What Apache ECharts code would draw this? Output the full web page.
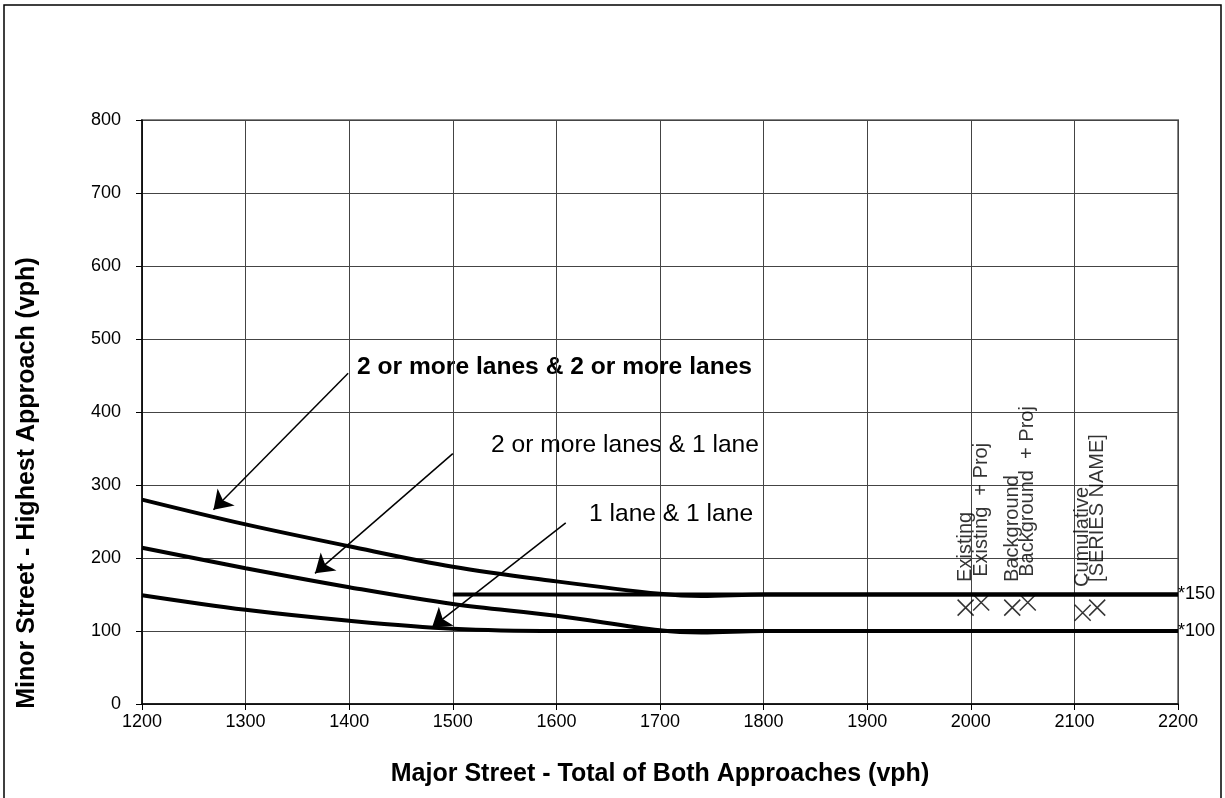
<!DOCTYPE html>
<html>
<head>
<meta charset="utf-8">
<title>Warrant chart</title>
<script src="https://cdn.jsdelivr.net/npm/echarts@6/dist/echarts.min.js"></script>
<style>
  html, body { margin: 0; padding: 0; background: #fff; }
  #chart { width: 1225px; height: 798px; }
</style>
</head>
<body>
<div id="chart"></div>
<script>
// curves, [major vph, minor vph]
const twoPlusTwoPlus = [[1200, 280], [1300, 246], [1400, 216], [1500, 188], [1600, 168], [1700, 151], [1740, 148], [1800, 150], [2200, 150]];
const twoPlusOne = [[1200, 214], [1300, 186], [1400, 160], [1500, 137], [1600, 121], [1700, 101], [1740, 98], [1800, 100], [2200, 100]];
const oneOne = [[1200, 149], [1300, 129], [1400, 114], [1500, 103], [1600, 100], [1700, 100], [2200, 100]];
const line150 = [[1500, 150], [2200, 150]];

// scenario points
const pointNames = ['Existing', 'Existing  + Proj', 'Background', 'Background  + Proj', 'Cumulative', '[SERIES NAME]'];
const pointX = [1995, 2010, 2040, 2055, 2108, 2122];
const pointY = [132, 139, 132, 139, 125, 132];

// leader arrows (from label to curve)
const arrowFrom = [[1399, 453], [1500, 343], [1609, 248]];
const arrowTo = [[1269, 266], [1367, 179], [1480, 105]];

const FONT = '"Liberation Sans", Arial, sans-serif';

let myChart = echarts.init(document.getElementById('chart'));

function curve(name, data, extra) {
  return Object.assign({
    name: name,
    type: 'line',
    data: data,
    smooth: 0.35,
    symbol: 'none',
    silent: true,
    lineStyle: { color: '#000', width: 4 }
  }, extra || {});
}

myChart.setOption({
  animation: false,
  textStyle: { fontFamily: FONT },
  grid: {
    left: 142, right: 47, top: 120, bottom: 94,
    show: true,
    borderColor: '#888',
    borderWidth: 2
  },
  xAxis: {
    type: 'value',
    min: 1200,
    max: 2200,
    interval: 100,
    name: 'Major Street - Total of Both Approaches (vph)',
    nameLocation: 'middle',
    nameGap: 58,
    nameTextStyle: { color: '#000', fontSize: 25, fontWeight: 'bold', fontFamily: FONT },
    axisLine: { lineStyle: { color: '#000', width: 1.5 } },
    axisTick: { length: 6, lineStyle: { color: '#000' } },
    axisLabel: { color: '#000', fontSize: 18, margin: 9, fontFamily: FONT, formatter: v => String(v) },
    splitLine: { lineStyle: { color: '#444', width: 1 } }
  },
  yAxis: {
    type: 'value',
    min: 0,
    max: 800,
    interval: 100,
    axisLine: { show: true, lineStyle: { color: '#000', width: 1.5 } },
    axisTick: { show: true, length: 6, lineStyle: { color: '#000' } },
    axisLabel: { color: '#000', fontSize: 18, margin: 21, fontFamily: FONT, formatter: v => String(v) },
    splitLine: { lineStyle: { color: '#444', width: 1 } }
  },
  series: [
    curve('2 or more lanes & 2 or more lanes', twoPlusTwoPlus),
    curve('2 or more lanes & 1 lane', twoPlusOne),
    curve('1 lane & 1 lane', oneOne, {
      endLabel: { show: true, formatter: '*100', color: '#000', fontSize: 18, distance: 0, fontFamily: FONT }
    }),
    curve('150', line150, {
      smooth: false,
      endLabel: { show: true, formatter: '*150', color: '#000', fontSize: 18, distance: 0, fontFamily: FONT },
      markLine: {
        silent: true,
        symbol: ['none', 'arrow'],
        symbolSize: 18,
        label: { show: false },
        lineStyle: { color: '#000', width: 1.5, type: 'solid' },
        data: arrowFrom.map((p, i) => [{ coord: p }, { coord: arrowTo[i] }])
      }
    }),
    {
      name: 'points',
      type: 'scatter',
      symbol: 'path://M0,0L20,20M20,0L0,20',
      symbolSize: 16,
      silent: true,
      itemStyle: { color: 'rgba(0,0,0,0)', borderColor: '#000', borderWidth: 1.5 },
      label: {
        show: true,
        formatter: '{b}',
        position: 'top',
        distance: 17,
        rotate: 90,
        align: 'left',
        verticalAlign: 'middle',
        color: '#000',
        fontSize: 20,
        fontFamily: FONT
      },
      data: pointX.map((x, i) => ({ name: pointNames[i], value: [x, pointY[i]] }))
    }
  ],
  graphic: [
    {
      type: 'rect',
      silent: true,
      shape: { x: 4, y: 5, width: 1217, height: 820 },
      style: { fill: 'none', stroke: '#000', lineWidth: 1.5 }
    },
    {
      type: 'text', silent: true,
      x: 27, y: 483, rotation: Math.PI / 2,
      style: { text: 'Minor Street - Highest Approach (vph)', font: 'bold 25px ' + FONT, fill: '#000', align: 'center', verticalAlign: 'middle' }
    },
    {
      type: 'text', left: 351, top: 349, silent: true,
      style: { text: '2 or more lanes & 2 or more lanes', font: 'bold 24.6px ' + FONT, fill: '#000', backgroundColor: '#fff', padding: [6, 6] }
    },
    {
      type: 'text', left: 485, top: 427, silent: true,
      style: { text: '2 or more lanes & 1 lane', font: '24.6px ' + FONT, fill: '#000', backgroundColor: '#fff', padding: [6, 6] }
    },
    {
      type: 'text', left: 583, top: 496, silent: true,
      style: { text: '1 lane & 1 lane', font: '24.6px ' + FONT, fill: '#000', backgroundColor: '#fff', padding: [6, 6] }
    }
  ]
});
</script>
</body>
</html>
